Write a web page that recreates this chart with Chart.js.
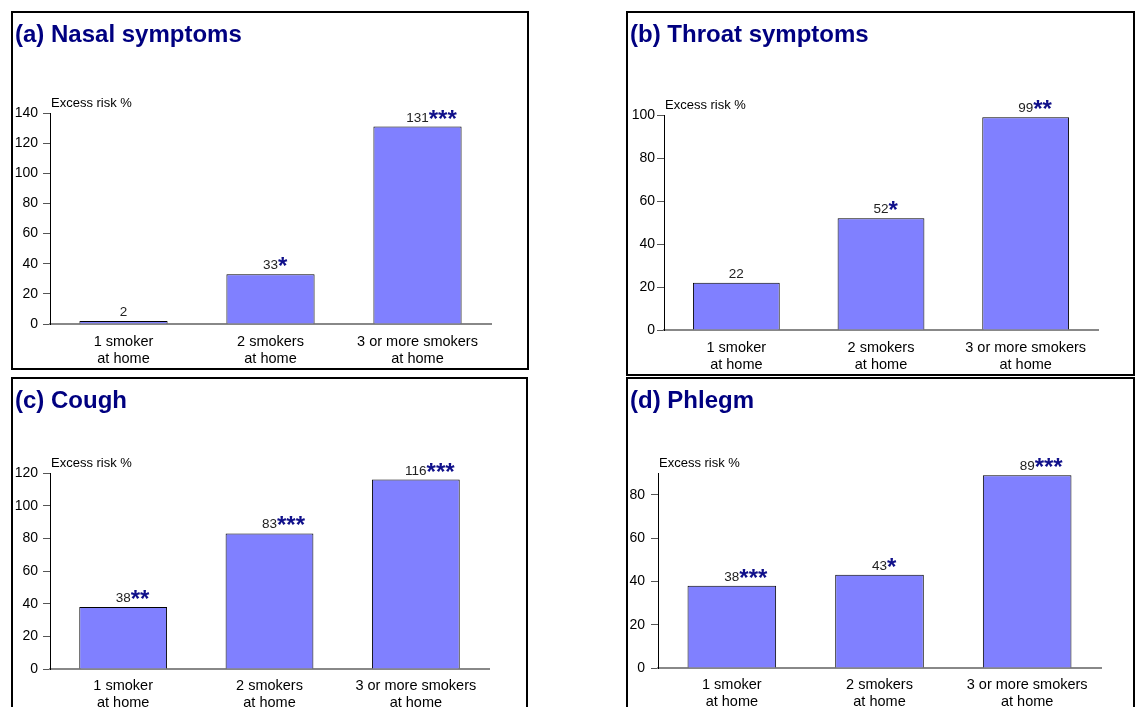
<!DOCTYPE html>
<html>
<head>
<meta charset="utf-8">
<title>Excess risk of symptoms by number of smokers at home</title>
<script src="https://cdn.jsdelivr.net/npm/chart.js@4.4.0/dist/chart.umd.min.js"></script>
<style>
  body { margin: 0; background: #fff; width: 1136px; height: 707px; overflow: hidden; position: relative; }
  .panel { position: absolute; box-sizing: border-box; border: 2px solid #000; background: #fff; }
  .panel canvas { display: block; }
</style>
</head>
<body>

<div class="panel" style="left:11px;top:11px;width:518px;height:359px"><canvas id="ca" width="514" height="355"></canvas></div>
<div class="panel" style="left:626px;top:11px;width:509px;height:365px"><canvas id="cb" width="505" height="361"></canvas></div>
<div class="panel" style="left:11px;top:377px;width:517px;height:345px"><canvas id="cc" width="513" height="341"></canvas></div>
<div class="panel" style="left:626px;top:377px;width:509px;height:345px"><canvas id="cd" width="505" height="341"></canvas></div>

<script>
// data
var categories = [['1 smoker', 'at home'], ['2 smokers', 'at home'], ['3 or more smokers', 'at home']];

var nasalValues = [2, 33, 131];
var nasalStars = ['', '*', '***'];
var throatValues = [22, 52, 99];
var throatStars = ['', '*', '**'];
var coughValues = [38, 83, 116];
var coughStars = ['**', '***', '***'];
var phlegmValues = [38, 43, 89];
var phlegmStars = ['***', '*', '***'];

var yMax = [140, 100, 120, 90];
var yStep = 20;
var unitLabel = 'Excess risk %';

var fontFamily = "'Liberation Sans', Arial, Helvetica, sans-serif";
Chart.defaults.font.family = fontFamily;
Chart.defaults.color = '#000';

// titles, value labels and the unit label above the y axis
var annotatePlugin = {
  id: 'annotate',
  afterDraw: function(chart) {
    var o = chart.options.plugins.annotate;
    var ctx = chart.ctx;
    var area = chart.chartArea;
    ctx.save();

    ctx.fillStyle = '#000080';
    ctx.font = 'bold 24px ' + fontFamily;
    ctx.textAlign = 'left';
    ctx.textBaseline = 'middle';
    ctx.fillText(o.title, 2, 22);

    ctx.fillStyle = '#000';
    ctx.font = '13px ' + fontFamily;
    ctx.fillText(unitLabel, area.left + 1, area.top - 10);

    var values = chart.data.datasets[0].data;
    chart.getDatasetMeta(0).data.forEach(function(bar, i) {
      var txt = String(values[i]);
      var base = bar.y - 5;
      ctx.font = '13.5px ' + fontFamily;
      ctx.fillStyle = '#222';
      ctx.textAlign = 'center';
      ctx.textBaseline = 'alphabetic';
      ctx.fillText(txt, bar.x, base);
      if (o.stars[i]) {
        var w = ctx.measureText(txt).width;
        ctx.font = 'bold 24px ' + fontFamily;
        ctx.fillStyle = '#10108a';
        ctx.textAlign = 'left';
        ctx.fillText(o.stars[i], bar.x + w / 2, base + 5);
      }
    });
    ctx.restore();
  }
};

var panels = [
  { canvas: 'ca', title: '(a) Nasal symptoms', values: nasalValues, stars: nasalStars, max: yMax[0], yWidth: 37, top: 100, right: 36, bottom: 44, yPad: 5, xPad: 10 },
  { canvas: 'cb', title: '(b) Throat symptoms', values: throatValues, stars: throatStars, max: yMax[1], yWidth: 36, top: 102, right: 35, bottom: 44, yPad: 2, xPad: 10 },
  { canvas: 'cc', title: '(c) Cough', values: coughValues, stars: coughStars, max: yMax[2], yWidth: 37, top: 94, right: 37, bottom: 51, yPad: 5, xPad: 9 },
  { canvas: 'cd', title: '(d) Phlegm', values: phlegmValues, stars: phlegmStars, max: yMax[3], yWidth: 30, top: 94, right: 32, bottom: 52, yPad: 6, xPad: 9 }
];

var xAxisHeight = 40;

panels.forEach(function(p) {
  var ctx = document.getElementById(p.canvas).getContext('2d');
  new Chart(ctx, {
    type: 'bar',
    data: {
      labels: categories,
      datasets: [{
        data: p.values,
        backgroundColor: '#8080ff',
        borderColor: '#000',
        borderWidth: 1,
        categoryPercentage: 1.0,
        barPercentage: 0.6
      }]
    },
    options: {
      responsive: false,
      animation: false,
      layout: { padding: { left: 0, top: p.top, right: p.right, bottom: p.bottom - xAxisHeight } },
      plugins: {
        legend: { display: false },
        tooltip: { enabled: false },
        title: { display: false },
        annotate: { title: p.title, stars: p.stars }
      },
      scales: {
        x: {
          grid: { display: false, drawTicks: false },
          border: { display: true, color: '#888', width: 2 },
          ticks: { color: '#000', font: { size: 14.5, lineHeight: 1.15 }, padding: p.xPad, maxRotation: 0, autoSkip: false },
          afterFit: function(s) { s.height = xAxisHeight; }
        },
        y: {
          min: 0,
          max: p.max,
          bounds: 'data',
          ticks: { stepSize: yStep, padding: p.yPad, color: '#000', font: { size: 14 } },
          grid: { drawOnChartArea: false, drawTicks: true, tickLength: 7, color: '#555' },
          border: { display: true, color: '#000', width: 1 },
          afterBuildTicks: function(s) {
            // no label at the top bound when it is not a whole step
            s.ticks = s.ticks.filter(function(t) { return t.value % yStep === 0; });
          },
          afterFit: function(s) { s.width = p.yWidth; }
        }
      }
    },
    plugins: [annotatePlugin]
  });
});
</script>
</body>
</html>
